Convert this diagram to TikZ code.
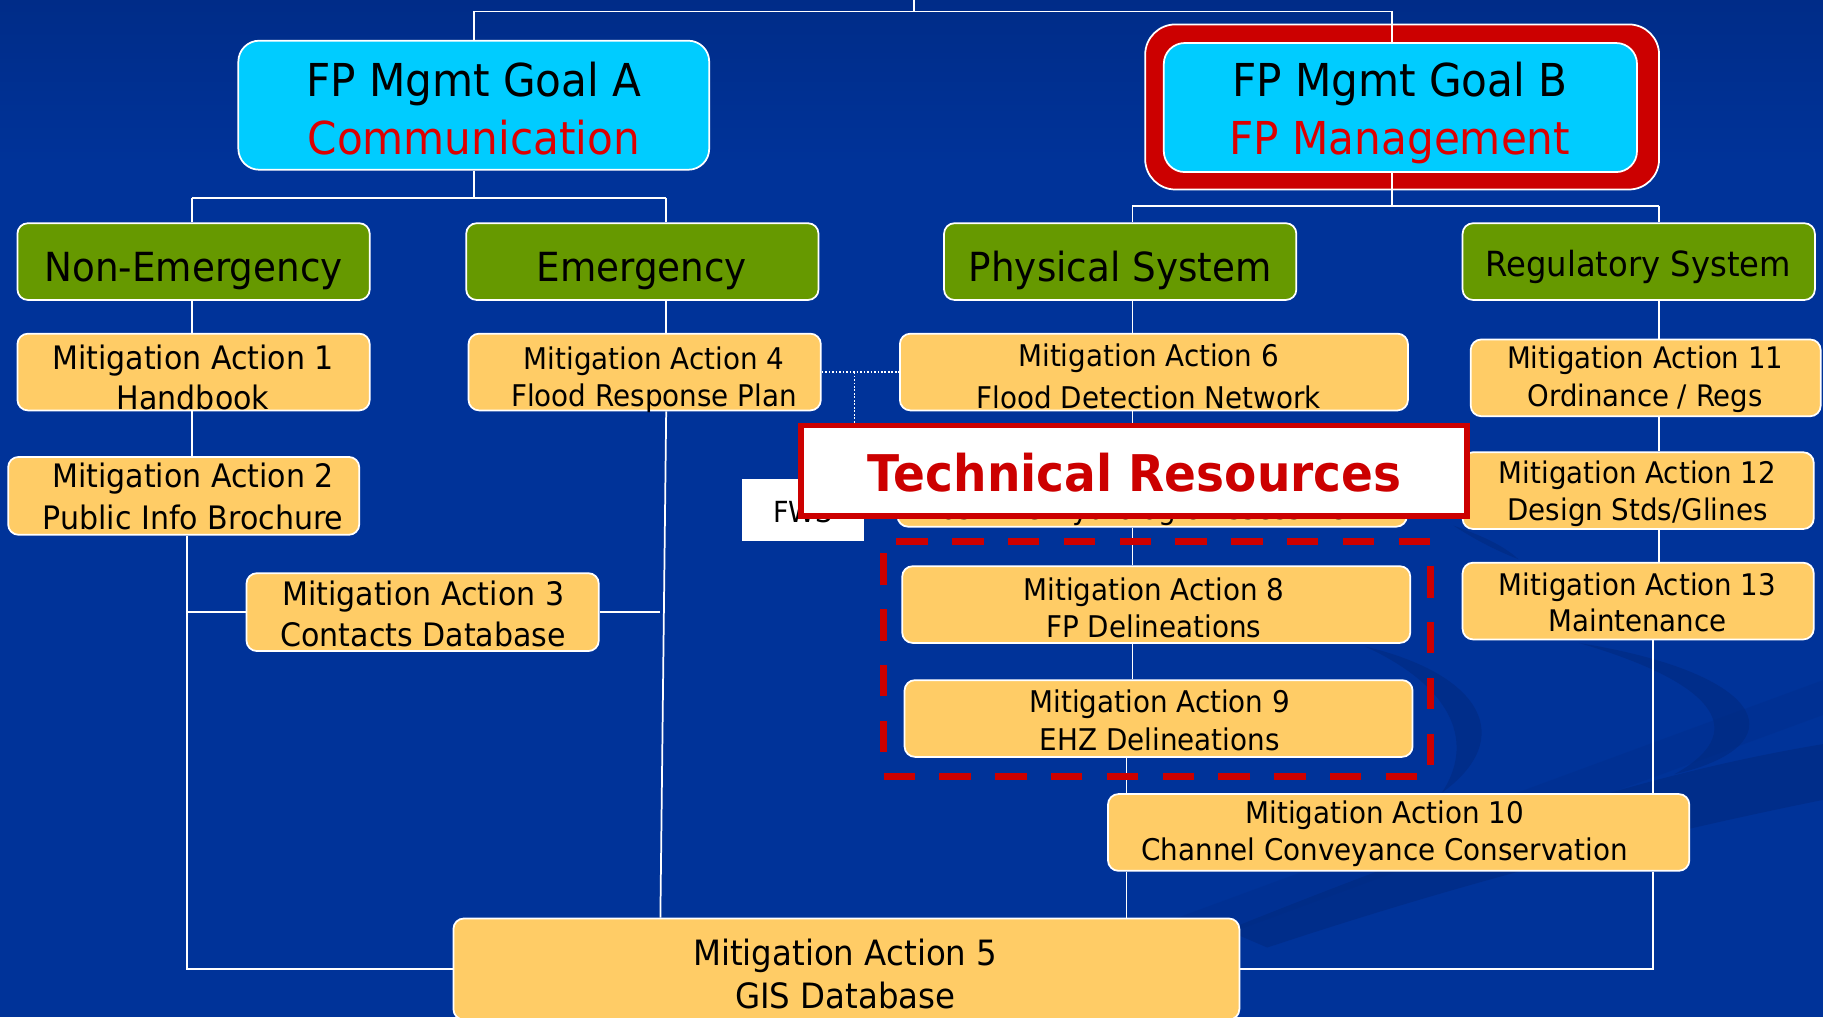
\documentclass[tikz,border=0pt]{standalone}
\usepackage{fontspec}
\setmainfont[FakeStretch=0.93]{DejaVu Sans}
\usetikzlibrary{calc}
\definecolor{bgblue}{RGB}{0,51,153}
\definecolor{bgtop}{RGB}{0,44,136}
\definecolor{swoosh}{RGB}{0,40,125}
\definecolor{goalcyan}{RGB}{0,204,255}
\definecolor{hdrgreen}{RGB}{102,153,0}
\definecolor{maorange}{RGB}{255,204,102}
\definecolor{redtxt}{RGB}{221,0,0}
\definecolor{frame}{RGB}{204,0,0}
\newcommand{\mysize}[2]{\fontsize{#1}{#2}\selectfont}
\begin{document}
\begin{tikzpicture}[x=1pt,y=-1pt,
  box/.style={draw=white, line width=1.5pt, rounded corners=9pt, inner sep=0pt},
  goalbox/.style={box, fill=goalcyan, rounded corners=18pt},
  hdrbox/.style={box, fill=hdrgreen, minimum width=303, minimum height=66},
  mabox/.style={box, fill=maorange},
  txt/.style={inner sep=0pt, align=center, text=black, anchor=north},
  onel/.style={inner sep=0pt, text=black, anchor=base},
  conn/.style={draw=white, line width=1.5pt},
  dotconn/.style={draw=white, line width=1.3pt, dash pattern=on 1.4pt off 1.6pt},
  swfill/.style={fill=swoosh, opacity=0.5}
]
% ---------- background ----------
\fill[bgblue] (0,0) rectangle (1568,875);
\shade[top color=bgtop, bottom color=bgblue] (0,0) rectangle (1568,140);
\useasboundingbox (0,0) rectangle (1568,875);
% faint swooshes of the slide background
\path[swfill] (1055,800) .. controls (1250,722) and (1400,668) .. (1568,640) -- (1568,688)
   .. controls (1400,722) and (1250,762) .. (1090,815) -- cycle;
\path[swfill] (1174,556) .. controls (1275,580) and (1305,635) .. (1240,682)
   .. controls (1268,640) and (1252,592) .. (1174,556) -- cycle;
\path[swfill] (1250,452) .. controls (1272,460) and (1292,468) .. (1306,481)
   .. controls (1288,474) and (1270,465) .. (1250,452) -- cycle;
\path[swfill] (1358,553) .. controls (1525,580) and (1545,642) .. (1440,666)
   .. controls (1502,632) and (1484,590) .. (1358,553) -- cycle;
\path[fill=swoosh, opacity=0.2] (780,875) -- (1568,585) -- (1568,615) -- (860,875) -- cycle;

% ---------- goal boxes ----------
\node[goalbox, minimum width=405, minimum height=111] (goalA) at (407.5,90.5) {};
\node[box, fill=frame, rounded corners=26pt, minimum width=442, minimum height=142] (goalBout) at (1206,92) {};
\node[goalbox, minimum width=407, minimum height=111] (goalB) at (1204.5,92.5) {};

% ---------- headers ----------
\node[hdrbox] (ne) at (166.5,225) {};
\node[hdrbox] (em) at (552.5,225) {};
\node[hdrbox] (ps) at (963.5,225) {};
\node[hdrbox] (rs) at (1409.5,225) {};

% ---------- mitigation actions ----------
\node[mabox, minimum width=303, minimum height=66] (ma1) at (166.5,320) {};
\node[mabox, minimum width=302, minimum height=67] (ma2) at (158,426.5) {};
\node[mabox, minimum width=303, minimum height=67] (ma3) at (363.5,526.5) {};
\node[mabox, minimum width=303, minimum height=66] (ma4) at (554.5,320) {};
\node[mabox, minimum width=437, minimum height=66] (ma6) at (992.5,320) {};
\node[mabox, minimum width=438, minimum height=65] (ma7) at (991,420.5) {};
\node[mabox, minimum width=437, minimum height=66] (ma8) at (994.5,520) {};
\node[mabox, minimum width=437, minimum height=66] (ma9) at (996.5,618) {};
\node[mabox, minimum width=500, minimum height=66] (ma10) at (1203,716) {};
\node[mabox, minimum width=676, minimum height=87] (ma5) at (728,833.5) {};
\node[mabox, minimum width=301, minimum height=66] (ma11) at (1415.5,325) {};
\node[mabox, minimum width=302, minimum height=66] (ma12) at (1409,422) {};
\node[mabox, minimum width=302, minimum height=66] (ma13) at (1409,517) {};

% ---------- connector helper coordinates ----------
\coordinate (root) at (786,0);
\coordinate (topbar) at (786,10);
\coordinate (barA) at (408,170);
\coordinate (barB) at (1197,177);
\coordinate (cA) at (165,0);
\coordinate (cA2) at (161,0);
\coordinate (cB) at (573,0);
\coordinate (cB2) at (568,0);
\coordinate (cC) at (974,0);
\coordinate (cC2) at (969,0);
\coordinate (cD) at (1427,0);
\coordinate (cD2) at (1422,0);
\coordinate (dj) at (735,0);

% ---------- connectors ----------
\draw[conn] (root) -- (topbar);
\draw[conn] (goalA.north) |- (topbar) -| (goalB.north -| barB);
\draw[conn] (goalA.south) -- (goalA.south |- barA);
\draw[conn] (cA |- barA) -- (cB |- barA);
\draw[conn] (cA |- barA) -- (cA |- ne.north);
\draw[conn] (cB |- barA) -- (cB |- em.north);
\draw[conn] (goalB.south -| barB) -- (barB);
\draw[conn] (cC |- barB) -- (cD |- barB);
\draw[conn] (cC |- barB) -- (cC |- ps.north);
\draw[conn] (cD |- barB) -- (cD |- rs.north);
% column A
\draw[conn] (cA |- ne.south) -- (cA |- ma1.north);
\draw[conn] (cA |- ma1.south) -- (cA |- ma2.north);
\draw[conn] (cA2 |- ma2.south) |- (ma5.west);
\draw[conn] (ma3.west) -- (ma3.west -| cA2);
% column B
\draw[conn] (cB |- em.south) -- (cB |- ma4.north);
\draw[conn] (cB |- ma4.south) -- (cB2 |- ma5.north);
\draw[conn] (ma3.east) -- (ma3.east -| cB2);
% column C
\draw[conn] (cC |- ps.south) -- (cC |- ma6.north);
\draw[conn] (cC |- ma6.south) -- (cC |- ma7.north);
\draw[conn] (cC |- ma7.south) -- (cC |- ma8.north);
\draw[conn] (cC |- ma8.south) -- (cC |- ma9.north);
\draw[conn] (cC2 |- ma9.south) -- (cC2 |- ma10.north);
\draw[conn] (cC2 |- ma10.south) -- (cC2 |- ma5.north);
% column D
\draw[conn] (cD |- rs.south) -- (cD |- ma11.north);
\draw[conn] (cD |- ma11.south) -- (cD |- ma12.north);
\draw[conn] (cD |- ma12.south) -- (cD |- ma13.north);
\draw[conn] (cD2 |- ma13.south) -- (cD2 |- ma10.north);
\draw[conn] (cD2 |- ma10.south) |- (ma5.east);
% dotted link
\draw[dotconn] (ma4.east) -- (ma6.west);
\draw[dotconn] (dj |- ma4.east) -- (dj |- 0,412);

% ---------- texts ----------
\node[txt, font=\mysize{39}{50}] (goalAt) at (407.5,53.4) {FP Mgmt Goal A\\\textcolor{redtxt}{Communication}};
\node[txt, font=\mysize{39}{50}] (goalBt) at (1204,53.4) {FP Mgmt Goal B\\\textcolor{redtxt}{FP Management}};
\node[onel, font=\mysize{34.5}{40}] (net) at (166.5,242.3) {Non-Emergency};
\node[onel, font=\mysize{34.5}{40}] (emt) at (552,242.3) {Emergency};
\node[onel, font=\mysize{34.5}{40}] (pst) at (963.5,242.3) {Physical System};
\node[onel, font=\mysize{29.8}{35}] (rst) at (1409,237.4) {Regulatory System};

\node[txt, font=\mysize{27.8}{34.5}] (ma1t) at (166,296.6) {Mitigation Action 1\\Handbook};
\node[txt, font=\mysize{27.8}{35.8}] (ma2t) at (166,398.4) {Mitigation Action 2\\Public Info Brochure};
\node[txt, font=\mysize{27.8}{35.3}] (ma3t) at (364,499.3) {Mitigation Action 3\\Contacts Database};
\node[txt, font=\mysize{25.7}{32.1}] (ma4t) at (562.5,298.2) {Mitigation Action 4\\Flood Response Plan};
\node[txt, font=\mysize{25.7}{36.4}] (ma6t) at (988,295.3) {Mitigation Action 6\\Flood Detection Network};
\node[onel, font=\mysize{25.7}{32}] (ma7t) at (989,447) {Post-Fire Hydrologic Assessment};
\node[txt, font=\mysize{25.7}{32.2}] (ma8t) at (992.5,496.5) {Mitigation Action 8\\FP Delineations};
\node[txt, font=\mysize{25.7}{32}] (ma9t) at (997.5,593.5) {Mitigation Action 9\\EHZ Delineations};
\node[txt, font=\mysize{25.7}{32.1}] (ma10t) at (1191,688.7) {Mitigation Action 10\\Channel Conveyance Conservation};
\node[txt, font=\mysize{30}{37.3}] (ma5t) at (727,807.2) {Mitigation Action 5\\GIS Database};
\node[txt, font=\mysize{25.5}{32.4}] (ma11t) at (1415,297.3) {Mitigation Action 11\\Ordinance / Regs};
\node[txt, font=\mysize{25.6}{31.6}] (ma12t) at (1408.5,396.2) {Mitigation Action 12\\Design Stds/Glines};
\node[txt, font=\mysize{25.6}{31.5}] (ma13t) at (1408.5,492.3) {Mitigation Action 13\\Maintenance};

% ---------- overlays ----------
\node[fill=white, minimum width=105, minimum height=53, inner sep=0pt] (fws) at (690.5,438.5) {};
\node[onel, font=\mysize{25}{30}] (fwst) at (690.5,449.6) {FWS};
\node[draw=frame, fill=white, line width=5pt, minimum width=573, minimum height=78, inner sep=0pt] (tr) at (975.5,405) {};
\node[onel, text=frame, font=\bfseries\mysize{43.5}{50}] (trt) at (976,423) {Technical Resources};
\node[draw=frame, line width=6pt, dash pattern=on 27pt off 21pt, minimum width=470, minimum height=202, inner sep=0pt] (grp) at (995,567) {};
\end{tikzpicture}
\end{document}
